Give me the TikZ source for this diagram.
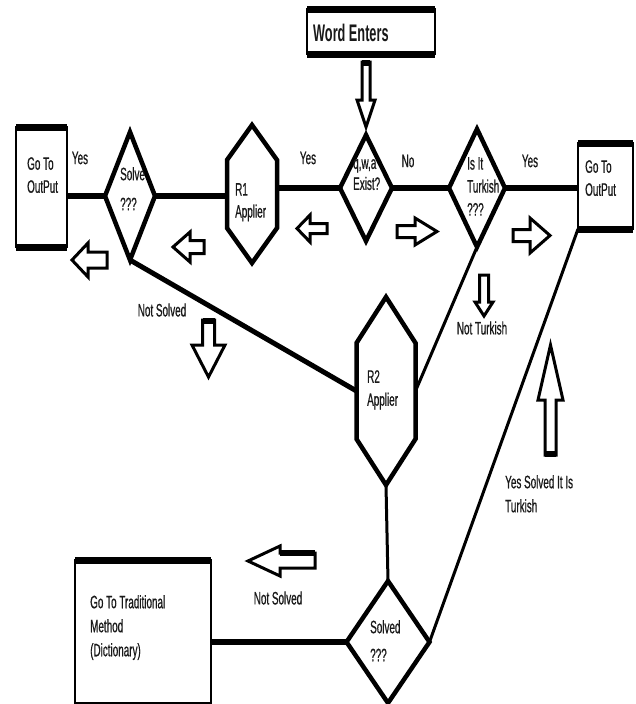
\documentclass[tikz,border=0pt]{standalone}
\usepackage{fontspec}
\newfontfamily\narrowfont{Liberation Sans}[FakeStretch=0.55, FakeBold=0.6]
\newfontfamily\narrowbold{Liberation Sans}[FakeStretch=0.53]
\usetikzlibrary{calc}
\newcommand\lblfont{\narrowfont\fontsize{18}{23}\selectfont}
\begin{document}
\begin{tikzpicture}[x=1pt,y=-1pt,
  frame/.style={draw=none, inner sep=0pt, outer sep=0pt},
  shapeline/.style={line width=4.5pt, line join=miter, miter limit=20},
  boxside/.style={line width=2.5pt},
  boxcap/.style={line width=7pt},
  conn/.style={line width=6.5pt},
  midconn/.style={line width=5pt},
  thinconn/.style={line width=3pt},
  blockarrow/.style={draw, fill=white, line width=3pt, line join=miter},
  arrowend/.style={line width=6pt},
  lbl/.style={font=\lblfont, text=black!90, inner sep=0pt, anchor=north west, align=left},
  word/.style={font=\lblfont, text=black!90, inner sep=0pt},
]
\useasboundingbox[fill=white] (0,0) rectangle (636,704);

% ---------- frames (named nodes) ----------
\node[frame, minimum width=128pt, minimum height=45pt] (we) at (371,31.5) {};
\node[frame, minimum width=51pt, minimum height=120pt] (leftout) at (41.5,187) {};
\node[frame, minimum width=55pt, minimum height=86pt] (rightout) at (605.5,186) {};
\node[frame, minimum width=136pt, minimum height=143pt] (trad) at (143,631.5) {};
\node[frame, minimum width=50pt, minimum height=128pt] (solve) at (130,196) {};
\node[frame, minimum width=52pt, minimum height=106pt] (q) at (366,188) {};
\node[frame, minimum width=56pt, minimum height=118pt] (turk) at (477,188) {};
\node[frame, minimum width=83pt, minimum height=122pt] (solved) at (388,642) {};
\node[frame, minimum width=50pt, minimum height=138pt] (r1) at (252,194) {};
\node[frame, minimum width=59pt, minimum height=188pt] (r2) at (386,391) {};

% ---------- connectors ----------
\draw[conn] (solve.west) -- (solve.west -| leftout.east);
\draw[conn] (solve.east) -- (solve.east -| r1.west);
\draw[conn] (q.west) -- (q.west -| r1.east);
\draw[conn] (q.east) -- (q.east -| turk.west);
\draw[conn] (turk.east) -- (turk.east -| rightout.west);
\draw[midconn] (solve.south) -- (r2.west);
\draw[thinconn] (r2.east) -- (turk.south);
\draw[thinconn] (r2.south) -- (solved.north);
\draw[thinconn] (rightout.south west) -- (solved.east);
\draw[conn] (solved.west) -- (solved.west -| trad.east);

% ---------- boxes ----------
\foreach \b in {we,leftout,rightout,trad}{
  \draw[boxside, fill=white] (\b.north west) rectangle (\b.south east);
  \draw[boxcap] (\b.north west) -- (\b.north east);
}
\foreach \b in {we,leftout,rightout}{
  \draw[boxcap] (\b.south west) -- (\b.south east);
}

% ---------- diamonds ----------
\foreach \d in {solve,q,turk,solved}{
  \draw[shapeline, fill=white] (\d.north) -- (\d.east) -- (\d.south) -- (\d.west) -- cycle;
}

% ---------- hexagons ----------
\draw[shapeline, fill=white] (r1.north) -- ($(r1.north east)+(0,35)$) -- ($(r1.south east)+(0,-35)$)
  -- (r1.south) -- ($(r1.south west)+(0,-35)$) -- ($(r1.north west)+(0,35)$) -- cycle;
\draw[shapeline, fill=white] (r2.north) -- ($(r2.north east)+(0,46)$) -- ($(r2.south east)+(0,-46)$)
  -- (r2.south) -- ($(r2.south west)+(0,-46)$) -- ($(r2.north west)+(0,46)$) -- cycle;

% ---------- texts in shapes ----------
\node[lbl, font=\narrowbold\bfseries\fontsize{24}{26}\selectfont] at (313,24) {Word Enters};
\node[lbl] at (27,157) {Go To\\OutPut};
\node[lbl] at (585,160) {Go To\\OutPut};
\node[lbl, font=\narrowfont\fontsize{18}{30}\selectfont] at (120,167) {Solve\\???};
\node[lbl, font=\narrowfont\fontsize{18}{22}\selectfont] at (235,183) {R1\\Applier};
\node[lbl, font=\narrowfont\fontsize{18}{21}\selectfont] at (353,159) {q,w,a\\Exist?};
\node[lbl] at (467,157) {Is It\\Turkish\\???};
\node[lbl] at (367,370) {R2\\Applier};
\node[lbl, font=\narrowfont\fontsize{18}{28}\selectfont] at (370,620) {Solved\\???};
\node[lbl, font=\narrowfont\fontsize{18}{24}\selectfont] at (90,595) {Go To Traditional\\Method\\(Dictionary)};

% ---------- connector labels ----------
\node[word] at (80,158) {Yes};
\node[word] at (308,158) {Yes};
\node[word] at (408,161) {No};
\node[word] at (530,161) {Yes};
\node[word] at (162,310) {Not Solved};
\node[word] at (482,328) {Not Turkish};
\node[word] at (278,598) {Not Solved};
\node[lbl, font=\narrowfont\fontsize{18}{24}\selectfont] at (505,475) {Yes Solved It Is\\Turkish};

% ---------- block arrows ----------
% down: Word Enters
\draw[blockarrow] (362,62) -- (370,62) -- (370,100) -- (375,100) -- (366,127) -- (357,100) -- (362,100) -- cycle;
\draw[arrowend] (362,63) -- (370,63);
% right arrows
\draw[blockarrow] (397,225.5) -- (415,225.5) -- (415,218) -- (437,231.5) -- (415,245) -- (415,237.5) -- (397,237.5) -- cycle;
\draw[blockarrow] (513,229.5) -- (530,229.5) -- (530,218) -- (550,235.5) -- (530,253) -- (530,241.5) -- (513,241.5) -- cycle;
% left arrows
\draw[blockarrow] (327,223.5) -- (310,223.5) -- (310,215) -- (297,228.5) -- (310,242) -- (310,233.5) -- (327,233.5) -- cycle;
\draw[blockarrow] (204,240.5) -- (190,240.5) -- (190,232) -- (173,247) -- (190,262) -- (190,253.5) -- (204,253.5) -- cycle;
\draw[blockarrow] (107,252) -- (88,252) -- (88,243) -- (72,260) -- (88,277) -- (88,268) -- (107,268) -- cycle;
\draw[blockarrow] (315,553) -- (280,553) -- (280,546) -- (248,561) -- (280,576) -- (280,568) -- (315,568) -- cycle;
\draw[arrowend] (280,553) -- (315,553);
% down: Not Solved
\draw[blockarrow] (202.5,320) -- (214.5,320) -- (214.5,345) -- (225,345) -- (208.5,377) -- (192,345) -- (202.5,345) -- cycle;
\draw[arrowend] (202.5,321) -- (214.5,321);
% down: Not Turkish
\draw[blockarrow] (479.5,275) -- (488.5,275) -- (488.5,302) -- (493,302) -- (484,316) -- (475,302) -- (479.5,302) -- cycle;
% up: Yes Solved
\draw[blockarrow] (545,455) -- (556,455) -- (556,400) -- (563,400) -- (550.5,345) -- (538,400) -- (545,400) -- cycle;
\draw[arrowend] (545,454) -- (556,454);
\end{tikzpicture}
\end{document}
